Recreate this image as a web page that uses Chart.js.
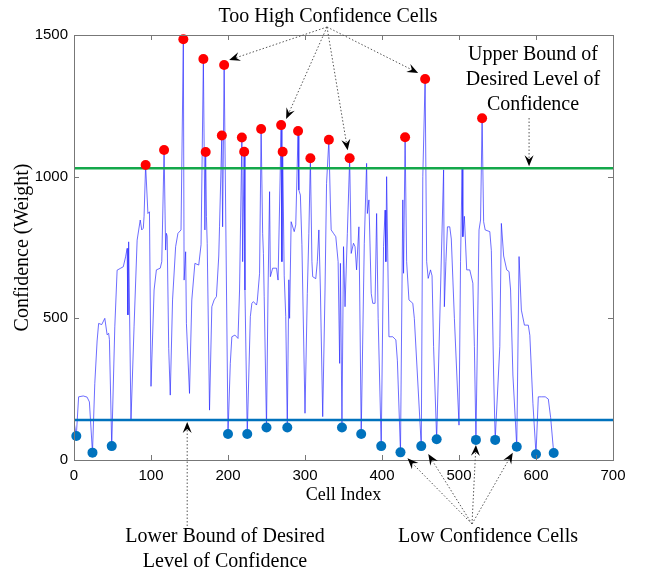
<!DOCTYPE html>
<html>
<head>
<meta charset="utf-8">
<script src="https://cdn.jsdelivr.net/npm/chart.js@4.4.0/dist/chart.umd.min.js"></script>
<style>
html, body { margin: 0; padding: 0; background: #fff; }
</style>
</head>
<body>
<canvas id="chart" width="650" height="576"></canvas>
<script>
// confidence per cell (peaks, troughs and shoulders)
var cellIdx = [
  0, 3, 6, 12, 17, 20, 24, 27, 30, 32, 36, 40, 43, 45, 46, 49, 53, 56, 60, 64, 67, 69, 70, 71, 74, 78, 82, 86, 88, 90, 91, 93, 96, 98, 100,
  104, 107, 112, 114, 117, 119, 120, 121, 123, 125, 128, 132, 135, 139, 142, 143, 145, 146, 150,
  153, 157, 162, 165, 168, 170, 171, 172, 173, 176, 179, 182, 185, 188, 189, 192, 193, 195, 200,
  203, 205, 209, 213, 215, 218, 219, 221, 222, 225,
  229, 231, 233, 237, 238, 241, 243, 245, 246, 247, 250,
  252, 254, 255, 258, 263, 265, 267, 269, 270, 271, 273, 275, 277,
  279, 280, 282, 286, 288, 291, 292, 294, 296, 300,
  303, 305, 307, 309, 310, 314, 316, 318, 320, 323, 326, 328, 331, 333, 334, 337, 340, 343, 345, 346, 348,
  350, 352, 355, 358, 360, 363, 365, 367, 370, 371, 373,
  377, 380, 381, 383, 386, 388, 391, 393, 395, 399,
  402, 404, 405, 406, 409, 414, 418, 420, 424,
  427, 428, 430, 432, 435, 440, 442, 446, 451,
  453, 456, 458, 460, 463, 465, 467, 471,
  476, 480, 481, 483, 485, 488, 490, 494, 500,
  502, 504, 505, 507, 510, 514, 518, 520, 522,
  526, 528, 530, 532, 534, 540, 542, 545, 547,
  553, 555, 558, 562, 565, 567, 570, 575,
  578, 581, 585, 590, 592, 596, 600,
  603, 607, 612, 616, 619, 623
];
var confidence = [
  135, 85, 223, 226, 222, 205, 26, 270, 420, 482, 478, 500, 442, 447, 425, 49, 470, 670, 676, 682, 717, 747, 512, 770, 138, 470, 776, 847, 812, 818, 860, 1041, 870, 876, 260,
  600, 671, 677, 700, 1094, 741, 800, 790, 394, 229, 565, 753, 800, 812, 1485, 635, 735, 482, 235,
  565, 694, 688, 760, 1415, 812, 1087, 859, 764, 176, 541, 565, 577, 720, 823, 1145, 823, 1394, 92,
  341, 435, 441, 429, 600, 1138, 700, 1088, 600, 92,
  506, 553, 559, 547, 560, 659, 1168, 800, 729, 576, 115,
  600, 947, 647, 677, 677, 635, 900, 1182, 700, 1088, 650, 506, 115,
  636, 500, 841, 806, 830, 1161, 953, 935, 760, 165,
  588, 800, 1065, 700, 647, 640, 700, 812, 600, 153, 600, 976, 1130, 900, 812, 800, 788, 700, 341, 694, 115,
  753, 541, 800, 1065, 729, 765, 753, 671, 823, 600, 92,
  765, 1047, 870, 918, 588, 553, 553, 870, 500, 49,
  753, 882, 700, 1000, 435, 435, 424, 350, 27,
  918, 659, 1139, 700, 565, 553, 500, 300, 49,
  1000, 1345, 700, 641, 671, 650, 400, 73,
  600, 1024, 541, 700, 823, 823, 780, 500, 123,
  700, 1030, 788, 860, 671, 671, 624, 400, 71,
  812, 847, 1206, 841, 812, 806, 740, 300, 71,
  400, 835, 720, 671, 665, 600, 300, 47,
  718, 529, 476, 476, 440, 200, 20,
  223, 223, 223, 215, 150, 25
];

// too high confidence cells (red)
var highIdx = [93, 117, 142, 168, 171, 192, 195, 218, 221, 243, 269, 271, 291, 307, 331, 358, 430, 456, 530];
var highVal = [1041, 1094, 1485, 1415, 1087, 1145, 1394, 1138, 1088, 1168, 1182, 1088, 1161, 1065, 1130, 1065, 1139, 1345, 1206];

// low confidence cells (blue)
var lowIdx = [3, 24, 49, 200, 225, 250, 277, 348, 373, 399, 424, 451, 471, 522, 547, 575, 600, 623];
var lowVal = [85, 26, 49, 92, 92, 115, 115, 115, 92, 49, 27, 49, 73, 71, 71, 47, 20, 25];

var upperBound = 1030;
var lowerBound = 141;

var xTicks = [0, 100, 200, 300, 400, 500, 600, 700];
var yTicks = [0, 500, 1000, 1500];

function pts(xs, ys) {
  return xs.map(function(x, i) { return {x: x, y: ys[i]}; });
}

function arrow(ctx, x0, y0, x1, y1) {
  var ang = Math.atan2(y1 - y0, x1 - x0);
  var len = 11;
  ctx.save();
  ctx.strokeStyle = '#555';
  ctx.lineWidth = 1;
  ctx.setLineDash([1.5, 2]);
  ctx.beginPath();
  ctx.moveTo(x0, y0);
  ctx.lineTo(x1 - Math.cos(ang) * (len - 4), y1 - Math.sin(ang) * (len - 4));
  ctx.stroke();
  ctx.setLineDash([]);
  ctx.translate(x1, y1);
  ctx.rotate(ang);
  ctx.fillStyle = '#000';
  ctx.beginPath();
  ctx.moveTo(0, 0);
  ctx.lineTo(-len, -4.5);
  ctx.lineTo(-len + 4, 0);
  ctx.lineTo(-len, 4.5);
  ctx.closePath();
  ctx.fill();
  ctx.restore();
}

// arrows to marked cells: which marker and the tip offset in pixels
var highArrows = [[6, 5, -5], [10, 5, -6], [15, -2, -8], [17, -7, -6]];
var lowArrows = [[10, 7, 6], [11, 7, 8], [13, 0, 5], [15, -4, 6]];

var frame = {
  id: 'frame',
  afterDraw: function(chart) {
    var ctx = chart.ctx;
    var a = chart.chartArea;
    var xs = chart.scales.x, ys = chart.scales.y;
    ctx.save();
    ctx.strokeStyle = '#777';
    ctx.lineWidth = 1;
    ctx.strokeRect(Math.round(a.left) + 0.5, Math.round(a.top) + 0.5, Math.round(a.right - a.left), Math.round(a.bottom - a.top));
    ctx.beginPath();
    xTicks.forEach(function(v) {
      var p = Math.round(xs.getPixelForValue(v)) + 0.5;
      ctx.moveTo(p, a.bottom); ctx.lineTo(p, a.bottom - 5);
      ctx.moveTo(p, a.top); ctx.lineTo(p, a.top + 5);
    });
    yTicks.forEach(function(v) {
      var p = Math.round(ys.getPixelForValue(v)) + 0.5;
      ctx.moveTo(a.left, p); ctx.lineTo(a.left + 5, p);
      ctx.moveTo(a.right, p); ctx.lineTo(a.right - 5, p);
    });
    ctx.stroke();

    ctx.fillStyle = '#000';
    ctx.font = '20px "Liberation Serif"';
    ctx.textAlign = 'center';
    ctx.textBaseline = 'middle';
    ctx.fillText('Too High Confidence Cells', 328, 17);
    ctx.fillText('Upper Bound of', 533, 55);
    ctx.fillText('Desired Level of', 533, 80);
    ctx.fillText('Confidence', 533, 105);
    ctx.fillText('Lower Bound of Desired', 225, 537);
    ctx.fillText('Level of Confidence', 225, 562);
    ctx.fillText('Low Confidence Cells', 488, 537);

    highArrows.forEach(function(h) {
      var px = xs.getPixelForValue(highIdx[h[0]]) + h[1];
      var py = ys.getPixelForValue(highVal[h[0]]) + h[2];
      arrow(ctx, 327, 27, px, py);
    });
    lowArrows.forEach(function(l) {
      var px = xs.getPixelForValue(lowIdx[l[0]]) + l[1];
      var py = ys.getPixelForValue(lowVal[l[0]]) + l[2];
      arrow(ctx, 472, 524, px, py);
    });
    var ux = xs.getPixelForValue(591);
    arrow(ctx, ux, 118, ux, ys.getPixelForValue(upperBound) - 2);
    var lx = xs.getPixelForValue(147);
    arrow(ctx, lx, 526, lx, ys.getPixelForValue(lowerBound) + 2);
    ctx.restore();
  }
};

new Chart(document.getElementById('chart'), {
  type: 'line',
  data: {
    datasets: [
      {
        data: pts(highIdx, highVal),
        showLine: false,
        pointRadius: 5,
        pointBackgroundColor: '#ff0000',
        pointBorderWidth: 0,
        clip: false
      },
      {
        data: pts(lowIdx, lowVal),
        showLine: false,
        pointRadius: 5,
        pointBackgroundColor: '#0072bd',
        pointBorderWidth: 0,
        clip: false
      },
      {
        data: pts([0, 700], [upperBound, upperBound]),
        borderColor: '#14a84a',
        borderWidth: 2.5,
        pointRadius: 0
      },
      {
        data: pts([0, 700], [lowerBound, lowerBound]),
        borderColor: '#0072bd',
        borderWidth: 2.5,
        pointRadius: 0
      },
      {
        data: pts(cellIdx, confidence),
        borderColor: 'rgba(40, 40, 255, 0.68)',
        borderWidth: 1,
        pointRadius: 0,
        tension: 0
      }
    ]
  },
  options: {
    responsive: false,
    animation: false,
    events: [],
    layout: { padding: { left: 0, right: 37, top: 35, bottom: 66 } },
    plugins: { legend: { display: false }, tooltip: { enabled: false } },
    scales: {
      x: {
        type: 'linear',
        min: 0,
        max: 700,
        afterFit: function(s) { s.height = 50; },
        afterBuildTicks: function(s) { s.ticks = xTicks.map(function(v) { return {value: v}; }); },
        grid: { display: false, drawTicks: false },
        border: { display: false },
        ticks: { padding: 7, color: '#000', font: { family: 'Liberation Sans', size: 15 }, callback: function(v) { return String(v); } },
        title: { display: true, text: 'Cell Index', color: '#000', padding: { top: 0, bottom: 4 }, font: { family: 'Liberation Serif', size: 18 } }
      },
      y: {
        min: 0,
        max: 1500,
        afterFit: function(s) { s.width = 74; },
        afterBuildTicks: function(s) { s.ticks = yTicks.map(function(v) { return {value: v}; }); },
        grid: { display: false, drawTicks: false },
        border: { display: false },
        ticks: { padding: 6, color: '#000', font: { family: 'Liberation Sans', size: 15 }, callback: function(v) { return String(v); } },
        title: { display: true, text: 'Confidence (Weight)', color: '#000', padding: { top: 11, bottom: 0 }, font: { family: 'Liberation Serif', size: 20 } }
      }
    }
  },
  plugins: [frame]
});
</script>
</body>
</html>
